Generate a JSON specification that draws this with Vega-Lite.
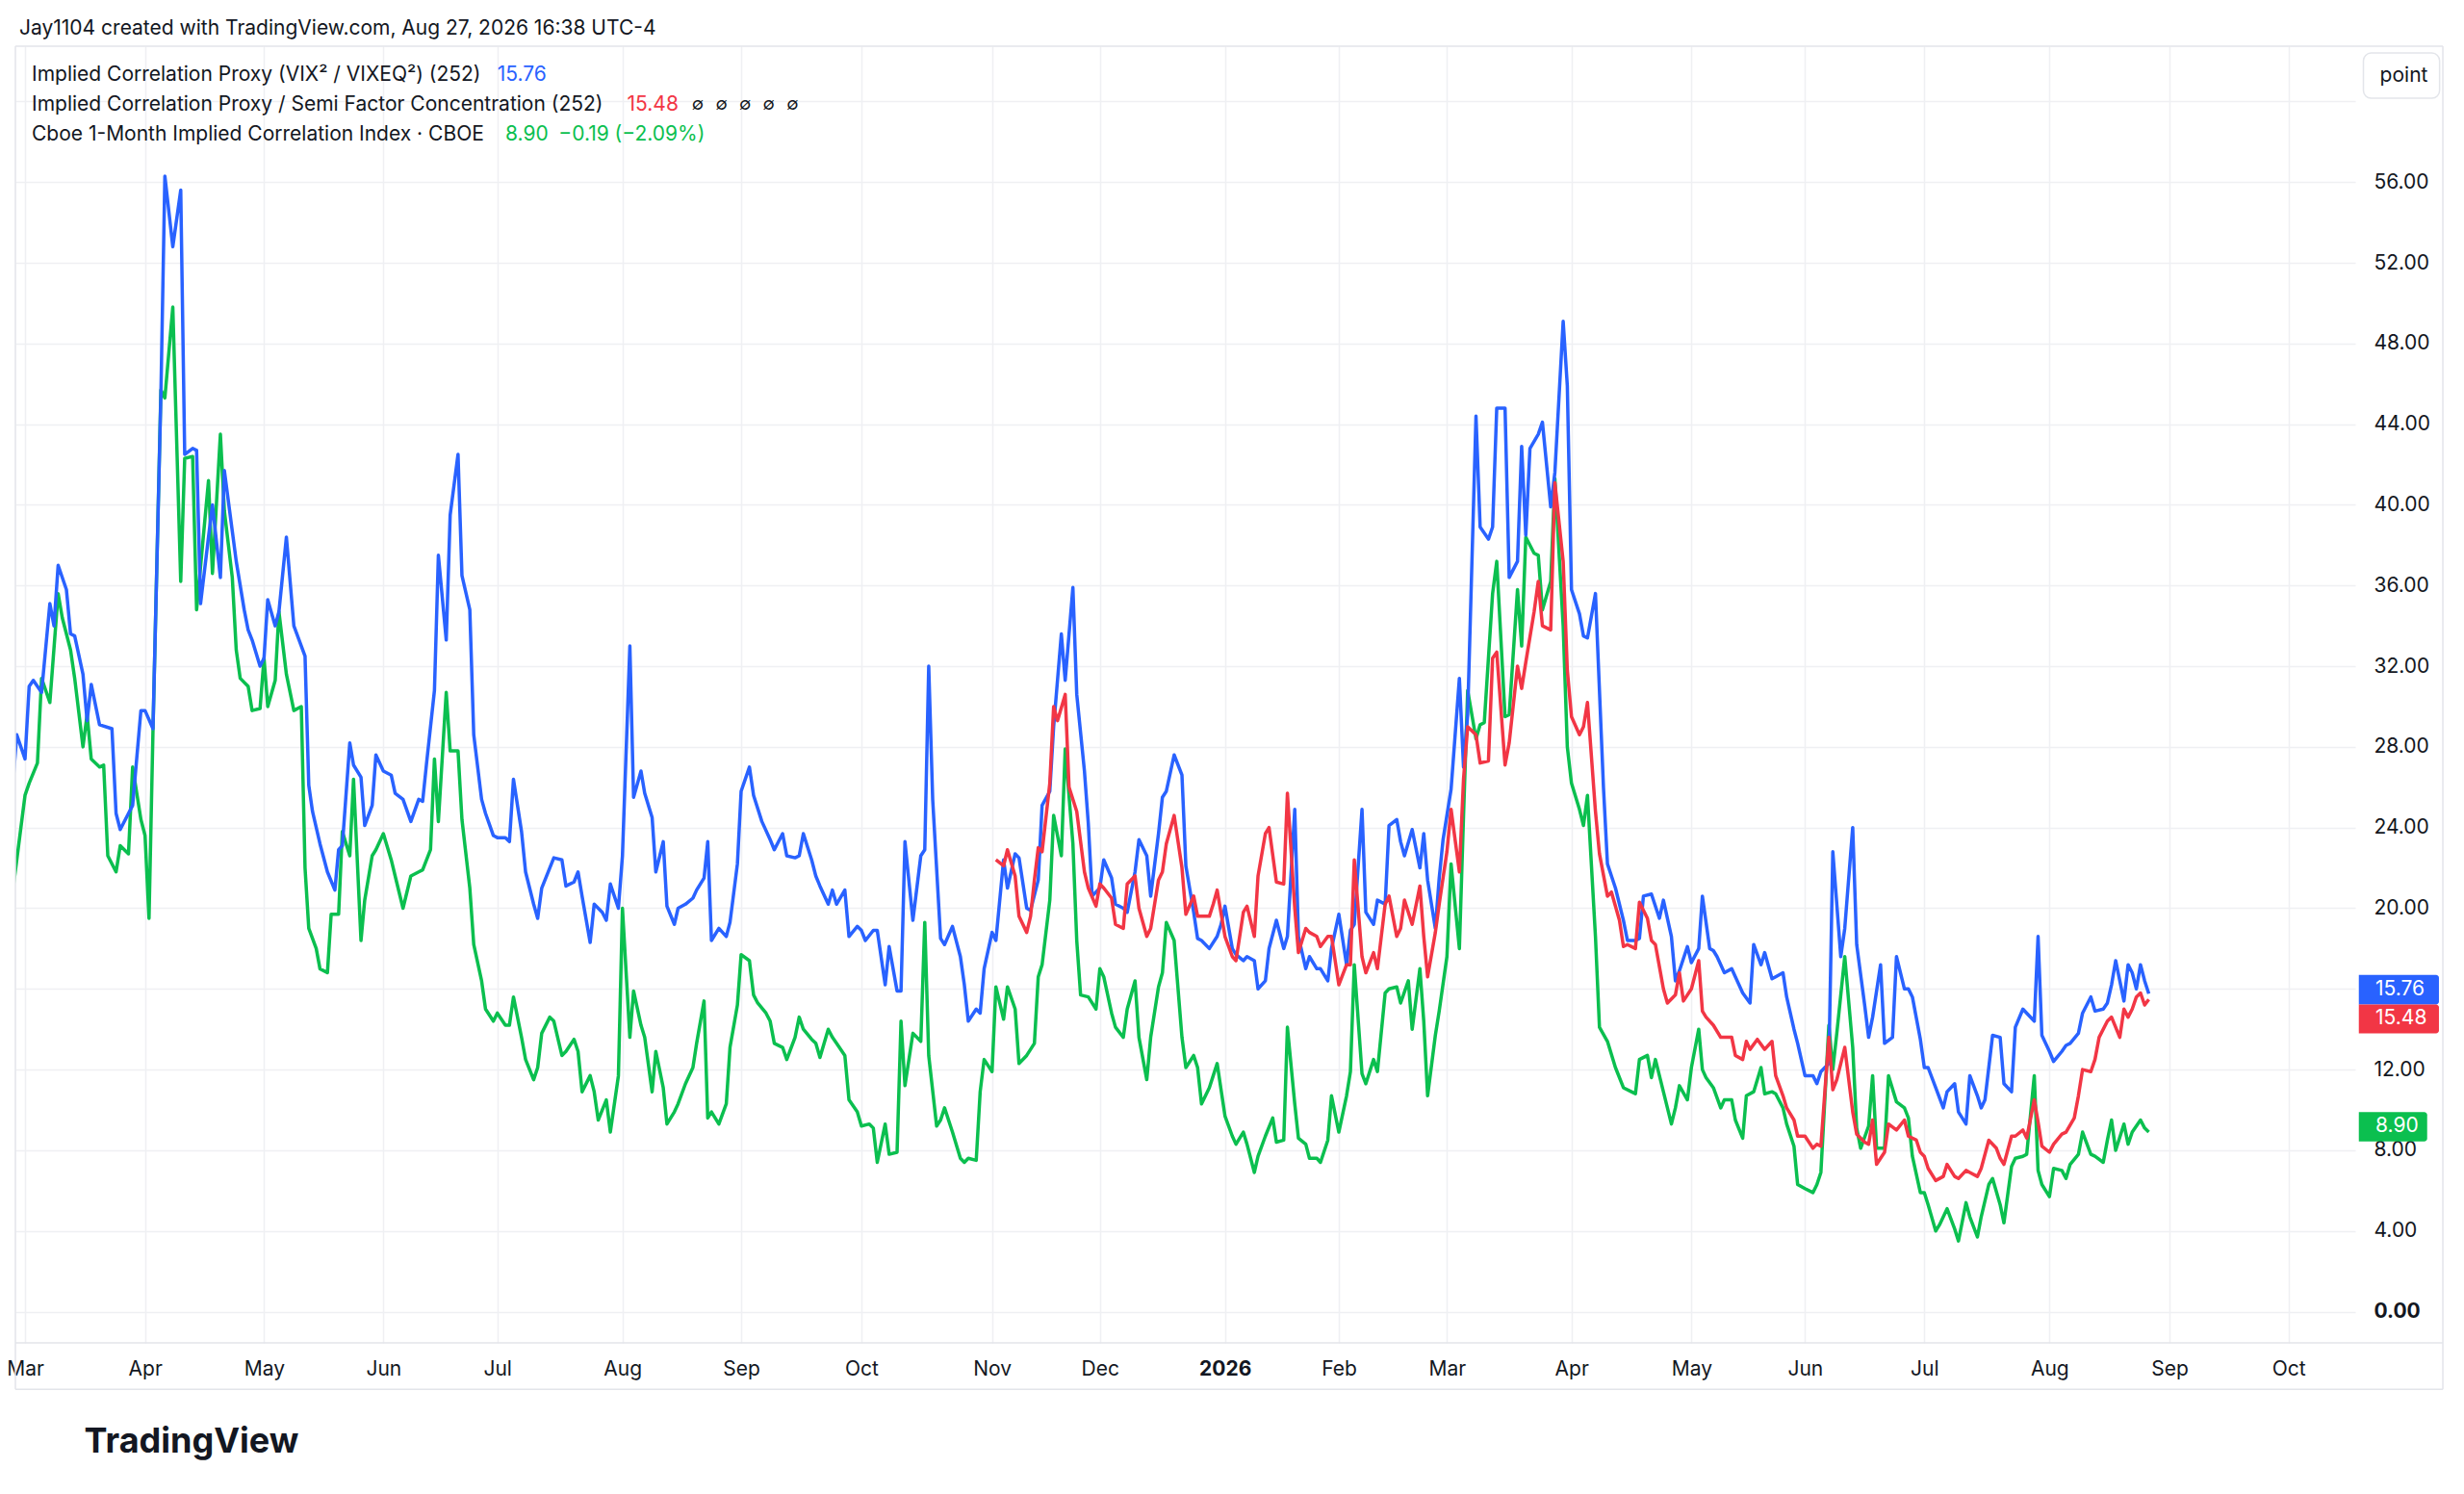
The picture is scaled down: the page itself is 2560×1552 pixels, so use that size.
{
"$schema": "https://vega.github.io/schema/vega-lite/v6.json",
"width": 2431,
"height": 1347,
"autosize": {"type": "none"},
"padding": {"left": 16, "top": 48, "right": 113, "bottom": 157},
"background": "#ffffff",
"title": {"text": "Jay1104 created with TradingView.com, Aug 27, 2026 16:38 UTC-4", "anchor": "start", "frame": "group", "dx": 4, "dy": 2, "offset": 9, "font": "Inter", "fontSize": 21, "fontWeight": "normal", "color": "#131722"},
"config": {"view": {"stroke": null}, "font": "Inter"},
"datasets": {
"legend": [
{"key": "proxy", "name": "Implied Correlation Proxy (VIX² / VIXEQ²) (252)", "last": "15.76", "extra": ""},
{"key": "semi", "name": "Implied Correlation Proxy / Semi Factor Concentration (252)", "last": "15.48", "extra": "∅\u2002\u2009∅\u2002\u2009∅\u2002\u2009∅\u2002\u2009∅"},
{"key": "cor", "name": "Cboe 1-Month Implied Correlation Index · CBOE", "last": "8.90", "extra": "8.90\u2002−0.19 (−2.09%)"}
],
"proxy": [
{"date":"2025-02-28","value":26.0},{"date":"2025-03-01","value":28.6},{"date":"2025-03-03","value":27.4},{"date":"2025-03-04","value":31.0},{"date":"2025-03-05","value":31.3},{"date":"2025-03-07","value":30.7},{"date":"2025-03-09","value":35.1},{"date":"2025-03-10","value":34.0},{"date":"2025-03-11","value":37.0},{"date":"2025-03-13","value":35.8},{"date":"2025-03-14","value":33.6},{"date":"2025-03-15","value":33.5},{"date":"2025-03-17","value":31.6},{"date":"2025-03-18","value":29.3},{"date":"2025-03-19","value":31.1},{"date":"2025-03-21","value":29.1},{"date":"2025-03-24","value":28.9},{"date":"2025-03-25","value":24.7},{"date":"2025-03-26","value":23.9},{"date":"2025-03-28","value":24.7},{"date":"2025-03-29","value":25.1},{"date":"2025-03-31","value":29.8},{"date":"2025-04-01","value":29.8},{"date":"2025-04-03","value":28.9},{"date":"2025-04-05","value":45.5},{"date":"2025-04-06","value":56.3},{"date":"2025-04-08","value":52.8},{"date":"2025-04-10","value":55.6},{"date":"2025-04-11","value":42.5},{"date":"2025-04-13","value":42.8},{"date":"2025-04-14","value":42.7},{"date":"2025-04-15","value":35.1},{"date":"2025-04-17","value":38.4},{"date":"2025-04-18","value":40.0},{"date":"2025-04-20","value":36.4},{"date":"2025-04-21","value":41.7},{"date":"2025-04-23","value":38.7},{"date":"2025-04-24","value":37.2},{"date":"2025-04-26","value":34.8},{"date":"2025-04-27","value":33.8},{"date":"2025-04-28","value":33.3},{"date":"2025-04-30","value":32.0},{"date":"2025-05-01","value":32.4},{"date":"2025-05-02","value":35.3},{"date":"2025-05-04","value":34.0},{"date":"2025-05-05","value":34.7},{"date":"2025-05-07","value":38.4},{"date":"2025-05-09","value":34.0},{"date":"2025-05-11","value":33.0},{"date":"2025-05-12","value":32.5},{"date":"2025-05-13","value":26.1},{"date":"2025-05-14","value":24.8},{"date":"2025-05-16","value":23.2},{"date":"2025-05-18","value":21.8},{"date":"2025-05-20","value":20.9},{"date":"2025-05-21","value":22.9},{"date":"2025-05-22","value":23.1},{"date":"2025-05-24","value":28.2},{"date":"2025-05-25","value":27.1},{"date":"2025-05-27","value":26.5},{"date":"2025-05-28","value":24.1},{"date":"2025-05-30","value":25.1},{"date":"2025-05-31","value":27.6},{"date":"2025-06-02","value":26.8},{"date":"2025-06-04","value":26.6},{"date":"2025-06-05","value":25.7},{"date":"2025-06-07","value":25.4},{"date":"2025-06-09","value":24.3},{"date":"2025-06-11","value":25.4},{"date":"2025-06-12","value":25.3},{"date":"2025-06-13","value":27.2},{"date":"2025-06-15","value":30.8},{"date":"2025-06-16","value":37.5},{"date":"2025-06-18","value":33.3},{"date":"2025-06-19","value":39.5},{"date":"2025-06-21","value":42.5},{"date":"2025-06-22","value":36.5},{"date":"2025-06-24","value":34.8},{"date":"2025-06-25","value":28.6},{"date":"2025-06-27","value":25.4},{"date":"2025-06-28","value":24.7},{"date":"2025-06-30","value":23.6},{"date":"2025-07-01","value":23.5},{"date":"2025-07-03","value":23.5},{"date":"2025-07-04","value":23.3},{"date":"2025-07-05","value":26.4},{"date":"2025-07-07","value":23.8},{"date":"2025-07-08","value":21.8},{"date":"2025-07-10","value":20.2},{"date":"2025-07-11","value":19.5},{"date":"2025-07-12","value":21.0},{"date":"2025-07-14","value":22.0},{"date":"2025-07-15","value":22.5},{"date":"2025-07-17","value":22.4},{"date":"2025-07-18","value":21.1},{"date":"2025-07-20","value":21.3},{"date":"2025-07-21","value":21.8},{"date":"2025-07-22","value":20.6},{"date":"2025-07-24","value":18.3},{"date":"2025-07-25","value":20.2},{"date":"2025-07-27","value":19.8},{"date":"2025-07-28","value":19.4},{"date":"2025-07-29","value":21.2},{"date":"2025-07-31","value":20.0},{"date":"2025-08-01","value":22.6},{"date":"2025-08-03","value":33.0},{"date":"2025-08-04","value":25.5},{"date":"2025-08-06","value":26.8},{"date":"2025-08-07","value":25.7},{"date":"2025-08-09","value":24.5},{"date":"2025-08-10","value":21.8},{"date":"2025-08-12","value":23.3},{"date":"2025-08-13","value":20.1},{"date":"2025-08-15","value":19.2},{"date":"2025-08-16","value":20.0},{"date":"2025-08-18","value":20.2},{"date":"2025-08-20","value":20.5},{"date":"2025-08-21","value":20.9},{"date":"2025-08-23","value":21.5},{"date":"2025-08-24","value":23.3},{"date":"2025-08-25","value":18.4},{"date":"2025-08-27","value":19.0},{"date":"2025-08-29","value":18.6},{"date":"2025-08-30","value":19.3},{"date":"2025-09-01","value":22.2},{"date":"2025-09-02","value":25.8},{"date":"2025-09-04","value":27.0},{"date":"2025-09-05","value":25.6},{"date":"2025-09-07","value":24.3},{"date":"2025-09-09","value":23.4},{"date":"2025-09-10","value":22.9},{"date":"2025-09-12","value":23.7},{"date":"2025-09-13","value":22.6},{"date":"2025-09-15","value":22.5},{"date":"2025-09-16","value":22.6},{"date":"2025-09-17","value":23.7},{"date":"2025-09-19","value":22.4},{"date":"2025-09-20","value":21.6},{"date":"2025-09-21","value":21.1},{"date":"2025-09-23","value":20.2},{"date":"2025-09-24","value":20.9},{"date":"2025-09-25","value":20.2},{"date":"2025-09-27","value":20.9},{"date":"2025-09-28","value":18.6},{"date":"2025-09-30","value":19.1},{"date":"2025-10-01","value":18.9},{"date":"2025-10-02","value":18.4},{"date":"2025-10-04","value":18.9},{"date":"2025-10-05","value":18.9},{"date":"2025-10-07","value":16.2},{"date":"2025-10-08","value":18.1},{"date":"2025-10-10","value":15.9},{"date":"2025-10-11","value":15.9},{"date":"2025-10-12","value":23.3},{"date":"2025-10-14","value":19.4},{"date":"2025-10-16","value":22.6},{"date":"2025-10-17","value":22.9},{"date":"2025-10-18","value":32.0},{"date":"2025-10-19","value":25.4},{"date":"2025-10-21","value":18.5},{"date":"2025-10-22","value":18.2},{"date":"2025-10-24","value":19.1},{"date":"2025-10-26","value":17.6},{"date":"2025-10-27","value":16.2},{"date":"2025-10-28","value":14.4},{"date":"2025-10-30","value":15.0},{"date":"2025-10-31","value":14.8},{"date":"2025-11-01","value":17.0},{"date":"2025-11-03","value":18.8},{"date":"2025-11-04","value":18.4},{"date":"2025-11-06","value":22.4},{"date":"2025-11-07","value":21.0},{"date":"2025-11-09","value":22.7},{"date":"2025-11-10","value":22.5},{"date":"2025-11-12","value":20.0},{"date":"2025-11-13","value":19.9},{"date":"2025-11-15","value":21.4},{"date":"2025-11-16","value":25.1},{"date":"2025-11-18","value":25.8},{"date":"2025-11-19","value":29.0},{"date":"2025-11-21","value":33.6},{"date":"2025-11-22","value":31.3},{"date":"2025-11-24","value":35.9},{"date":"2025-11-25","value":30.6},{"date":"2025-11-27","value":26.8},{"date":"2025-11-28","value":24.2},{"date":"2025-11-29","value":20.6},{"date":"2025-12-01","value":21.0},{"date":"2025-12-02","value":22.4},{"date":"2025-12-04","value":21.5},{"date":"2025-12-05","value":20.2},{"date":"2025-12-07","value":20.0},{"date":"2025-12-08","value":19.8},{"date":"2025-12-10","value":21.8},{"date":"2025-12-11","value":23.4},{"date":"2025-12-13","value":22.6},{"date":"2025-12-14","value":20.6},{"date":"2025-12-16","value":23.7},{"date":"2025-12-17","value":25.5},{"date":"2025-12-18","value":25.8},{"date":"2025-12-20","value":27.6},{"date":"2025-12-22","value":26.6},{"date":"2025-12-23","value":22.1},{"date":"2025-12-25","value":19.8},{"date":"2025-12-26","value":18.5},{"date":"2025-12-27","value":18.4},{"date":"2025-12-29","value":18.0},{"date":"2025-12-31","value":18.6},{"date":"2026-01-01","value":19.2},{"date":"2026-01-02","value":20.1},{"date":"2026-01-04","value":18.0},{"date":"2026-01-05","value":17.7},{"date":"2026-01-07","value":17.4},{"date":"2026-01-08","value":17.6},{"date":"2026-01-10","value":17.4},{"date":"2026-01-11","value":16.0},{"date":"2026-01-13","value":16.4},{"date":"2026-01-14","value":18.0},{"date":"2026-01-16","value":19.4},{"date":"2026-01-18","value":18.0},{"date":"2026-01-19","value":18.6},{"date":"2026-01-21","value":24.9},{"date":"2026-01-22","value":18.6},{"date":"2026-01-24","value":17.0},{"date":"2026-01-25","value":17.6},{"date":"2026-01-27","value":17.0},{"date":"2026-01-28","value":17.0},{"date":"2026-01-30","value":16.4},{"date":"2026-01-31","value":18.0},{"date":"2026-02-02","value":19.7},{"date":"2026-02-04","value":17.2},{"date":"2026-02-05","value":18.9},{"date":"2026-02-06","value":19.2},{"date":"2026-02-08","value":24.9},{"date":"2026-02-09","value":19.8},{"date":"2026-02-11","value":19.2},{"date":"2026-02-12","value":20.4},{"date":"2026-02-14","value":20.2},{"date":"2026-02-15","value":24.1},{"date":"2026-02-17","value":24.4},{"date":"2026-02-18","value":23.3},{"date":"2026-02-19","value":22.6},{"date":"2026-02-21","value":23.9},{"date":"2026-02-23","value":22.0},{"date":"2026-02-24","value":23.7},{"date":"2026-02-25","value":21.4},{"date":"2026-02-27","value":19.0},{"date":"2026-02-28","value":21.5},{"date":"2026-03-01","value":23.4},{"date":"2026-03-03","value":25.9},{"date":"2026-03-05","value":31.4},{"date":"2026-03-06","value":27.0},{"date":"2026-03-07","value":29.6},{"date":"2026-03-09","value":44.4},{"date":"2026-03-10","value":38.9},{"date":"2026-03-12","value":38.3},{"date":"2026-03-13","value":38.9},{"date":"2026-03-14","value":44.8},{"date":"2026-03-16","value":44.8},{"date":"2026-03-17","value":36.4},{"date":"2026-03-19","value":37.2},{"date":"2026-03-20","value":42.9},{"date":"2026-03-21","value":38.5},{"date":"2026-03-22","value":42.8},{"date":"2026-03-24","value":43.5},{"date":"2026-03-25","value":44.1},{"date":"2026-03-27","value":39.9},{"date":"2026-03-28","value":41.6},{"date":"2026-03-30","value":49.1},{"date":"2026-03-31","value":45.9},{"date":"2026-04-01","value":35.8},{"date":"2026-04-03","value":34.6},{"date":"2026-04-04","value":33.5},{"date":"2026-04-05","value":33.4},{"date":"2026-04-07","value":35.6},{"date":"2026-04-09","value":26.0},{"date":"2026-04-10","value":22.2},{"date":"2026-04-11","value":21.6},{"date":"2026-04-12","value":21.0},{"date":"2026-04-14","value":19.4},{"date":"2026-04-15","value":18.4},{"date":"2026-04-17","value":18.4},{"date":"2026-04-18","value":18.5},{"date":"2026-04-19","value":20.6},{"date":"2026-04-21","value":20.7},{"date":"2026-04-23","value":19.5},{"date":"2026-04-24","value":20.4},{"date":"2026-04-26","value":18.6},{"date":"2026-04-27","value":16.4},{"date":"2026-04-28","value":16.9},{"date":"2026-04-30","value":18.1},{"date":"2026-05-01","value":17.3},{"date":"2026-05-03","value":18.0},{"date":"2026-05-04","value":20.6},{"date":"2026-05-06","value":18.0},{"date":"2026-05-07","value":17.9},{"date":"2026-05-08","value":17.6},{"date":"2026-05-10","value":16.8},{"date":"2026-05-12","value":17.0},{"date":"2026-05-13","value":16.6},{"date":"2026-05-15","value":15.8},{"date":"2026-05-17","value":15.3},{"date":"2026-05-18","value":18.2},{"date":"2026-05-20","value":17.2},{"date":"2026-05-21","value":17.8},{"date":"2026-05-23","value":16.5},{"date":"2026-05-24","value":16.6},{"date":"2026-05-26","value":16.8},{"date":"2026-05-27","value":15.6},{"date":"2026-05-29","value":14.0},{"date":"2026-05-30","value":13.3},{"date":"2026-06-01","value":11.7},{"date":"2026-06-03","value":11.7},{"date":"2026-06-04","value":11.3},{"date":"2026-06-05","value":11.9},{"date":"2026-06-07","value":12.3},{"date":"2026-06-08","value":22.8},{"date":"2026-06-10","value":17.6},{"date":"2026-06-11","value":19.0},{"date":"2026-06-13","value":24.0},{"date":"2026-06-14","value":18.2},{"date":"2026-06-16","value":15.2},{"date":"2026-06-17","value":13.6},{"date":"2026-06-18","value":14.6},{"date":"2026-06-20","value":17.2},{"date":"2026-06-21","value":13.3},{"date":"2026-06-23","value":13.6},{"date":"2026-06-24","value":17.6},{"date":"2026-06-26","value":16.0},{"date":"2026-06-27","value":16.0},{"date":"2026-06-28","value":15.6},{"date":"2026-06-30","value":13.5},{"date":"2026-07-01","value":12.1},{"date":"2026-07-02","value":12.1},{"date":"2026-07-04","value":11.1},{"date":"2026-07-06","value":10.1},{"date":"2026-07-07","value":10.9},{"date":"2026-07-09","value":11.3},{"date":"2026-07-10","value":9.9},{"date":"2026-07-12","value":9.3},{"date":"2026-07-13","value":11.7},{"date":"2026-07-15","value":10.7},{"date":"2026-07-16","value":10.1},{"date":"2026-07-17","value":10.5},{"date":"2026-07-19","value":13.7},{"date":"2026-07-21","value":13.6},{"date":"2026-07-22","value":11.3},{"date":"2026-07-24","value":10.9},{"date":"2026-07-25","value":14.1},{"date":"2026-07-27","value":15.0},{"date":"2026-07-28","value":14.8},{"date":"2026-07-30","value":14.4},{"date":"2026-07-31","value":18.6},{"date":"2026-08-01","value":13.7},{"date":"2026-08-03","value":12.9},{"date":"2026-08-04","value":12.4},{"date":"2026-08-06","value":12.9},{"date":"2026-08-07","value":13.2},{"date":"2026-08-08","value":13.3},{"date":"2026-08-10","value":13.8},{"date":"2026-08-11","value":14.8},{"date":"2026-08-13","value":15.6},{"date":"2026-08-14","value":14.9},{"date":"2026-08-16","value":15.0},{"date":"2026-08-17","value":15.3},{"date":"2026-08-18","value":16.2},{"date":"2026-08-19","value":17.4},{"date":"2026-08-21","value":15.4},{"date":"2026-08-22","value":17.2},{"date":"2026-08-23","value":16.8},{"date":"2026-08-24","value":16.0},{"date":"2026-08-25","value":17.2},{"date":"2026-08-26","value":16.4},{"date":"2026-08-27","value":15.76}
],
"semi": [
{"date":"2025-11-04","value":22.4},{"date":"2025-11-06","value":22.1},{"date":"2025-11-07","value":22.9},{"date":"2025-11-09","value":21.6},{"date":"2025-11-10","value":19.6},{"date":"2025-11-12","value":18.8},{"date":"2025-11-13","value":19.6},{"date":"2025-11-14","value":21.4},{"date":"2025-11-15","value":23.0},{"date":"2025-11-16","value":22.8},{"date":"2025-11-18","value":26.2},{"date":"2025-11-19","value":30.0},{"date":"2025-11-20","value":29.3},{"date":"2025-11-22","value":30.6},{"date":"2025-11-23","value":26.0},{"date":"2025-11-25","value":24.8},{"date":"2025-11-27","value":21.8},{"date":"2025-11-28","value":21.0},{"date":"2025-11-30","value":20.1},{"date":"2025-12-01","value":21.2},{"date":"2025-12-02","value":21.0},{"date":"2025-12-04","value":20.5},{"date":"2025-12-05","value":19.2},{"date":"2025-12-07","value":19.0},{"date":"2025-12-08","value":21.2},{"date":"2025-12-10","value":21.6},{"date":"2025-12-11","value":20.0},{"date":"2025-12-13","value":18.6},{"date":"2025-12-14","value":19.0},{"date":"2025-12-16","value":21.4},{"date":"2025-12-17","value":21.8},{"date":"2025-12-18","value":23.2},{"date":"2025-12-20","value":24.6},{"date":"2025-12-22","value":22.0},{"date":"2025-12-23","value":19.7},{"date":"2025-12-25","value":20.6},{"date":"2025-12-26","value":19.6},{"date":"2025-12-29","value":19.6},{"date":"2025-12-30","value":20.2},{"date":"2025-12-31","value":20.9},{"date":"2026-01-02","value":18.6},{"date":"2026-01-04","value":17.6},{"date":"2026-01-05","value":17.4},{"date":"2026-01-07","value":19.8},{"date":"2026-01-08","value":20.1},{"date":"2026-01-10","value":18.6},{"date":"2026-01-11","value":21.6},{"date":"2026-01-13","value":23.7},{"date":"2026-01-14","value":24.0},{"date":"2026-01-16","value":21.3},{"date":"2026-01-18","value":21.2},{"date":"2026-01-19","value":25.7},{"date":"2026-01-21","value":20.0},{"date":"2026-01-22","value":17.8},{"date":"2026-01-24","value":19.0},{"date":"2026-01-25","value":18.8},{"date":"2026-01-27","value":18.6},{"date":"2026-01-28","value":18.1},{"date":"2026-01-30","value":18.6},{"date":"2026-01-31","value":18.6},{"date":"2026-02-02","value":16.2},{"date":"2026-02-04","value":17.2},{"date":"2026-02-05","value":17.2},{"date":"2026-02-06","value":22.4},{"date":"2026-02-08","value":17.6},{"date":"2026-02-09","value":16.8},{"date":"2026-02-11","value":17.8},{"date":"2026-02-12","value":17.0},{"date":"2026-02-14","value":20.2},{"date":"2026-02-15","value":20.6},{"date":"2026-02-17","value":18.6},{"date":"2026-02-18","value":19.0},{"date":"2026-02-19","value":20.4},{"date":"2026-02-21","value":19.2},{"date":"2026-02-23","value":21.1},{"date":"2026-02-24","value":18.6},{"date":"2026-02-25","value":16.6},{"date":"2026-02-27","value":18.8},{"date":"2026-02-28","value":20.2},{"date":"2026-03-02","value":22.8},{"date":"2026-03-03","value":24.9},{"date":"2026-03-05","value":21.8},{"date":"2026-03-06","value":26.4},{"date":"2026-03-07","value":29.0},{"date":"2026-03-09","value":28.6},{"date":"2026-03-10","value":27.2},{"date":"2026-03-12","value":27.3},{"date":"2026-03-13","value":32.4},{"date":"2026-03-14","value":32.7},{"date":"2026-03-16","value":27.1},{"date":"2026-03-17","value":28.2},{"date":"2026-03-19","value":32.0},{"date":"2026-03-20","value":30.9},{"date":"2026-03-21","value":32.2},{"date":"2026-03-23","value":34.7},{"date":"2026-03-24","value":36.2},{"date":"2026-03-25","value":34.0},{"date":"2026-03-27","value":33.8},{"date":"2026-03-28","value":41.1},{"date":"2026-03-30","value":37.2},{"date":"2026-03-31","value":31.8},{"date":"2026-04-01","value":29.5},{"date":"2026-04-03","value":28.6},{"date":"2026-04-04","value":29.0},{"date":"2026-04-05","value":30.2},{"date":"2026-04-07","value":24.8},{"date":"2026-04-08","value":22.7},{"date":"2026-04-10","value":20.6},{"date":"2026-04-11","value":20.8},{"date":"2026-04-13","value":19.4},{"date":"2026-04-14","value":18.1},{"date":"2026-04-15","value":18.2},{"date":"2026-04-17","value":18.0},{"date":"2026-04-18","value":20.3},{"date":"2026-04-20","value":19.5},{"date":"2026-04-21","value":18.4},{"date":"2026-04-22","value":18.2},{"date":"2026-04-24","value":16.0},{"date":"2026-04-25","value":15.3},{"date":"2026-04-27","value":15.7},{"date":"2026-04-28","value":16.8},{"date":"2026-04-29","value":15.4},{"date":"2026-05-01","value":16.0},{"date":"2026-05-03","value":17.4},{"date":"2026-05-04","value":14.9},{"date":"2026-05-05","value":14.6},{"date":"2026-05-07","value":14.2},{"date":"2026-05-09","value":13.6},{"date":"2026-05-10","value":13.6},{"date":"2026-05-12","value":13.6},{"date":"2026-05-13","value":12.7},{"date":"2026-05-15","value":12.5},{"date":"2026-05-16","value":13.4},{"date":"2026-05-17","value":13.0},{"date":"2026-05-19","value":13.5},{"date":"2026-05-21","value":13.0},{"date":"2026-05-23","value":13.4},{"date":"2026-05-24","value":11.7},{"date":"2026-05-26","value":10.7},{"date":"2026-05-27","value":10.1},{"date":"2026-05-29","value":9.5},{"date":"2026-05-30","value":8.7},{"date":"2026-06-01","value":8.7},{"date":"2026-06-03","value":8.1},{"date":"2026-06-04","value":8.3},{"date":"2026-06-05","value":8.2},{"date":"2026-06-07","value":13.6},{"date":"2026-06-08","value":11.0},{"date":"2026-06-09","value":11.5},{"date":"2026-06-11","value":13.1},{"date":"2026-06-13","value":9.9},{"date":"2026-06-14","value":8.8},{"date":"2026-06-16","value":8.4},{"date":"2026-06-17","value":8.3},{"date":"2026-06-18","value":9.5},{"date":"2026-06-19","value":7.3},{"date":"2026-06-21","value":7.9},{"date":"2026-06-22","value":9.3},{"date":"2026-06-24","value":9.0},{"date":"2026-06-26","value":9.5},{"date":"2026-06-27","value":8.7},{"date":"2026-06-29","value":8.5},{"date":"2026-06-30","value":7.9},{"date":"2026-07-01","value":7.7},{"date":"2026-07-02","value":7.1},{"date":"2026-07-04","value":6.5},{"date":"2026-07-06","value":6.7},{"date":"2026-07-07","value":7.3},{"date":"2026-07-09","value":6.7},{"date":"2026-07-10","value":6.6},{"date":"2026-07-12","value":7.0},{"date":"2026-07-13","value":6.9},{"date":"2026-07-15","value":6.7},{"date":"2026-07-16","value":7.1},{"date":"2026-07-18","value":8.5},{"date":"2026-07-20","value":8.1},{"date":"2026-07-21","value":7.6},{"date":"2026-07-22","value":7.3},{"date":"2026-07-24","value":8.7},{"date":"2026-07-25","value":8.7},{"date":"2026-07-27","value":9.0},{"date":"2026-07-28","value":8.6},{"date":"2026-07-30","value":10.5},{"date":"2026-07-31","value":9.4},{"date":"2026-08-01","value":8.2},{"date":"2026-08-03","value":7.9},{"date":"2026-08-04","value":8.3},{"date":"2026-08-06","value":8.8},{"date":"2026-08-07","value":8.9},{"date":"2026-08-09","value":9.6},{"date":"2026-08-10","value":10.7},{"date":"2026-08-11","value":12.0},{"date":"2026-08-13","value":11.9},{"date":"2026-08-14","value":12.5},{"date":"2026-08-15","value":13.6},{"date":"2026-08-17","value":14.4},{"date":"2026-08-18","value":14.6},{"date":"2026-08-20","value":13.6},{"date":"2026-08-21","value":15.0},{"date":"2026-08-22","value":14.6},{"date":"2026-08-23","value":15.0},{"date":"2026-08-24","value":15.6},{"date":"2026-08-25","value":15.8},{"date":"2026-08-26","value":15.2},{"date":"2026-08-27","value":15.48}
],
"cor": [
{"date":"2025-02-28","value":20.8},{"date":"2025-03-03","value":25.6},{"date":"2025-03-04","value":26.2},{"date":"2025-03-06","value":27.2},{"date":"2025-03-07","value":31.4},{"date":"2025-03-09","value":30.2},{"date":"2025-03-11","value":35.6},{"date":"2025-03-12","value":34.4},{"date":"2025-03-14","value":32.8},{"date":"2025-03-15","value":31.4},{"date":"2025-03-17","value":28.0},{"date":"2025-03-18","value":29.6},{"date":"2025-03-19","value":27.4},{"date":"2025-03-21","value":27.0},{"date":"2025-03-22","value":27.1},{"date":"2025-03-23","value":22.6},{"date":"2025-03-25","value":21.8},{"date":"2025-03-26","value":23.1},{"date":"2025-03-28","value":22.7},{"date":"2025-03-29","value":27.0},{"date":"2025-03-31","value":24.4},{"date":"2025-04-01","value":23.6},{"date":"2025-04-02","value":19.5},{"date":"2025-04-03","value":28.8},{"date":"2025-04-05","value":45.7},{"date":"2025-04-06","value":45.3},{"date":"2025-04-08","value":49.8},{"date":"2025-04-10","value":36.2},{"date":"2025-04-11","value":42.3},{"date":"2025-04-13","value":42.4},{"date":"2025-04-14","value":34.8},{"date":"2025-04-17","value":41.2},{"date":"2025-04-18","value":36.6},{"date":"2025-04-20","value":43.5},{"date":"2025-04-21","value":39.7},{"date":"2025-04-23","value":36.4},{"date":"2025-04-24","value":32.8},{"date":"2025-04-25","value":31.4},{"date":"2025-04-27","value":31.0},{"date":"2025-04-28","value":29.8},{"date":"2025-04-30","value":29.9},{"date":"2025-05-01","value":32.4},{"date":"2025-05-02","value":30.0},{"date":"2025-05-04","value":31.3},{"date":"2025-05-05","value":34.7},{"date":"2025-05-07","value":31.6},{"date":"2025-05-09","value":29.8},{"date":"2025-05-11","value":30.0},{"date":"2025-05-12","value":22.0},{"date":"2025-05-13","value":19.0},{"date":"2025-05-15","value":18.0},{"date":"2025-05-16","value":17.0},{"date":"2025-05-18","value":16.8},{"date":"2025-05-19","value":19.7},{"date":"2025-05-21","value":19.7},{"date":"2025-05-22","value":23.8},{"date":"2025-05-24","value":22.6},{"date":"2025-05-25","value":26.4},{"date":"2025-05-27","value":18.4},{"date":"2025-05-28","value":20.4},{"date":"2025-05-30","value":22.6},{"date":"2025-05-31","value":22.9},{"date":"2025-06-02","value":23.7},{"date":"2025-06-04","value":22.4},{"date":"2025-06-05","value":21.6},{"date":"2025-06-07","value":20.0},{"date":"2025-06-09","value":21.6},{"date":"2025-06-11","value":21.8},{"date":"2025-06-12","value":21.9},{"date":"2025-06-14","value":22.9},{"date":"2025-06-15","value":27.4},{"date":"2025-06-16","value":24.3},{"date":"2025-06-18","value":30.7},{"date":"2025-06-19","value":27.8},{"date":"2025-06-21","value":27.8},{"date":"2025-06-22","value":24.4},{"date":"2025-06-24","value":21.0},{"date":"2025-06-25","value":18.2},{"date":"2025-06-27","value":16.4},{"date":"2025-06-28","value":15.0},{"date":"2025-06-30","value":14.4},{"date":"2025-07-01","value":14.8},{"date":"2025-07-03","value":14.2},{"date":"2025-07-04","value":14.2},{"date":"2025-07-05","value":15.6},{"date":"2025-07-07","value":13.6},{"date":"2025-07-08","value":12.5},{"date":"2025-07-10","value":11.5},{"date":"2025-07-11","value":12.1},{"date":"2025-07-12","value":13.8},{"date":"2025-07-14","value":14.6},{"date":"2025-07-15","value":14.4},{"date":"2025-07-17","value":12.7},{"date":"2025-07-18","value":12.9},{"date":"2025-07-20","value":13.5},{"date":"2025-07-21","value":12.9},{"date":"2025-07-22","value":10.9},{"date":"2025-07-24","value":11.7},{"date":"2025-07-25","value":10.9},{"date":"2025-07-26","value":9.5},{"date":"2025-07-28","value":10.5},{"date":"2025-07-29","value":8.9},{"date":"2025-07-31","value":11.7},{"date":"2025-08-01","value":20.0},{"date":"2025-08-03","value":13.6},{"date":"2025-08-04","value":15.9},{"date":"2025-08-06","value":14.2},{"date":"2025-08-07","value":13.6},{"date":"2025-08-09","value":10.9},{"date":"2025-08-10","value":12.9},{"date":"2025-08-12","value":11.1},{"date":"2025-08-13","value":9.3},{"date":"2025-08-15","value":9.9},{"date":"2025-08-16","value":10.3},{"date":"2025-08-18","value":11.3},{"date":"2025-08-20","value":12.1},{"date":"2025-08-21","value":13.3},{"date":"2025-08-23","value":15.4},{"date":"2025-08-24","value":9.6},{"date":"2025-08-25","value":9.9},{"date":"2025-08-27","value":9.3},{"date":"2025-08-29","value":10.3},{"date":"2025-08-30","value":13.1},{"date":"2025-09-01","value":15.2},{"date":"2025-09-02","value":17.7},{"date":"2025-09-04","value":17.4},{"date":"2025-09-05","value":15.7},{"date":"2025-09-06","value":15.3},{"date":"2025-09-08","value":14.8},{"date":"2025-09-09","value":14.4},{"date":"2025-09-10","value":13.3},{"date":"2025-09-12","value":13.1},{"date":"2025-09-13","value":12.5},{"date":"2025-09-15","value":13.6},{"date":"2025-09-16","value":14.6},{"date":"2025-09-17","value":14.0},{"date":"2025-09-19","value":13.5},{"date":"2025-09-20","value":13.3},{"date":"2025-09-21","value":12.6},{"date":"2025-09-23","value":14.0},{"date":"2025-09-24","value":13.6},{"date":"2025-09-25","value":13.3},{"date":"2025-09-27","value":12.7},{"date":"2025-09-28","value":10.5},{"date":"2025-09-30","value":9.9},{"date":"2025-10-01","value":9.2},{"date":"2025-10-03","value":9.3},{"date":"2025-10-04","value":9.1},{"date":"2025-10-05","value":7.4},{"date":"2025-10-07","value":9.3},{"date":"2025-10-08","value":7.8},{"date":"2025-10-10","value":7.9},{"date":"2025-10-11","value":14.4},{"date":"2025-10-12","value":11.2},{"date":"2025-10-14","value":13.8},{"date":"2025-10-16","value":13.4},{"date":"2025-10-17","value":19.3},{"date":"2025-10-18","value":12.7},{"date":"2025-10-20","value":9.2},{"date":"2025-10-21","value":9.5},{"date":"2025-10-22","value":10.1},{"date":"2025-10-24","value":8.9},{"date":"2025-10-26","value":7.6},{"date":"2025-10-27","value":7.4},{"date":"2025-10-28","value":7.6},{"date":"2025-10-30","value":7.5},{"date":"2025-10-31","value":10.9},{"date":"2025-11-01","value":12.5},{"date":"2025-11-03","value":11.9},{"date":"2025-11-04","value":16.1},{"date":"2025-11-06","value":14.5},{"date":"2025-11-07","value":16.1},{"date":"2025-11-09","value":15.0},{"date":"2025-11-10","value":12.3},{"date":"2025-11-12","value":12.7},{"date":"2025-11-14","value":13.3},{"date":"2025-11-15","value":16.6},{"date":"2025-11-16","value":17.2},{"date":"2025-11-18","value":20.4},{"date":"2025-11-19","value":24.6},{"date":"2025-11-21","value":22.6},{"date":"2025-11-22","value":27.9},{"date":"2025-11-24","value":23.2},{"date":"2025-11-25","value":18.4},{"date":"2025-11-26","value":15.7},{"date":"2025-11-28","value":15.6},{"date":"2025-11-30","value":15.0},{"date":"2025-12-01","value":17.0},{"date":"2025-12-02","value":16.6},{"date":"2025-12-04","value":14.8},{"date":"2025-12-05","value":14.1},{"date":"2025-12-07","value":13.6},{"date":"2025-12-08","value":15.0},{"date":"2025-12-10","value":16.4},{"date":"2025-12-11","value":13.6},{"date":"2025-12-13","value":11.5},{"date":"2025-12-14","value":13.6},{"date":"2025-12-16","value":16.1},{"date":"2025-12-17","value":16.8},{"date":"2025-12-18","value":19.3},{"date":"2025-12-20","value":18.4},{"date":"2025-12-22","value":13.6},{"date":"2025-12-23","value":12.1},{"date":"2025-12-25","value":12.7},{"date":"2025-12-26","value":12.1},{"date":"2025-12-27","value":10.3},{"date":"2025-12-29","value":11.1},{"date":"2025-12-30","value":11.7},{"date":"2025-12-31","value":12.3},{"date":"2026-01-02","value":9.7},{"date":"2026-01-04","value":8.7},{"date":"2026-01-05","value":8.3},{"date":"2026-01-07","value":8.9},{"date":"2026-01-08","value":8.3},{"date":"2026-01-10","value":6.9},{"date":"2026-01-11","value":7.7},{"date":"2026-01-13","value":8.7},{"date":"2026-01-15","value":9.6},{"date":"2026-01-16","value":8.4},{"date":"2026-01-18","value":8.5},{"date":"2026-01-19","value":14.1},{"date":"2026-01-21","value":10.3},{"date":"2026-01-22","value":8.6},{"date":"2026-01-24","value":8.3},{"date":"2026-01-25","value":7.6},{"date":"2026-01-27","value":7.6},{"date":"2026-01-28","value":7.4},{"date":"2026-01-30","value":8.5},{"date":"2026-01-31","value":10.7},{"date":"2026-02-02","value":8.9},{"date":"2026-02-04","value":10.7},{"date":"2026-02-05","value":11.9},{"date":"2026-02-06","value":17.2},{"date":"2026-02-08","value":11.8},{"date":"2026-02-09","value":11.3},{"date":"2026-02-11","value":12.5},{"date":"2026-02-12","value":11.9},{"date":"2026-02-14","value":15.8},{"date":"2026-02-15","value":16.0},{"date":"2026-02-17","value":16.1},{"date":"2026-02-18","value":15.3},{"date":"2026-02-20","value":16.4},{"date":"2026-02-21","value":14.0},{"date":"2026-02-23","value":17.0},{"date":"2026-02-24","value":14.4},{"date":"2026-02-25","value":10.7},{"date":"2026-02-27","value":13.7},{"date":"2026-02-28","value":14.9},{"date":"2026-03-02","value":17.6},{"date":"2026-03-03","value":22.2},{"date":"2026-03-05","value":18.0},{"date":"2026-03-06","value":24.6},{"date":"2026-03-07","value":30.8},{"date":"2026-03-09","value":28.4},{"date":"2026-03-10","value":29.1},{"date":"2026-03-11","value":29.2},{"date":"2026-03-13","value":35.6},{"date":"2026-03-14","value":37.2},{"date":"2026-03-16","value":29.5},{"date":"2026-03-17","value":29.6},{"date":"2026-03-19","value":35.8},{"date":"2026-03-20","value":33.0},{"date":"2026-03-21","value":38.4},{"date":"2026-03-23","value":37.6},{"date":"2026-03-24","value":37.5},{"date":"2026-03-25","value":34.8},{"date":"2026-03-27","value":36.2},{"date":"2026-03-28","value":41.3},{"date":"2026-03-30","value":34.0},{"date":"2026-03-31","value":28.0},{"date":"2026-04-01","value":26.2},{"date":"2026-04-03","value":24.9},{"date":"2026-04-04","value":24.1},{"date":"2026-04-05","value":25.6},{"date":"2026-04-07","value":18.6},{"date":"2026-04-08","value":14.1},{"date":"2026-04-10","value":13.4},{"date":"2026-04-12","value":12.1},{"date":"2026-04-14","value":11.1},{"date":"2026-04-16","value":10.9},{"date":"2026-04-17","value":10.8},{"date":"2026-04-18","value":12.5},{"date":"2026-04-20","value":12.7},{"date":"2026-04-21","value":11.6},{"date":"2026-04-22","value":12.5},{"date":"2026-04-24","value":10.9},{"date":"2026-04-26","value":9.3},{"date":"2026-04-27","value":10.1},{"date":"2026-04-28","value":11.2},{"date":"2026-04-30","value":10.5},{"date":"2026-05-01","value":12.1},{"date":"2026-05-03","value":14.0},{"date":"2026-05-04","value":12.0},{"date":"2026-05-05","value":11.6},{"date":"2026-05-07","value":11.1},{"date":"2026-05-09","value":10.1},{"date":"2026-05-10","value":10.5},{"date":"2026-05-12","value":10.5},{"date":"2026-05-13","value":9.5},{"date":"2026-05-15","value":8.6},{"date":"2026-05-16","value":10.7},{"date":"2026-05-18","value":10.9},{"date":"2026-05-20","value":12.1},{"date":"2026-05-21","value":10.8},{"date":"2026-05-23","value":10.9},{"date":"2026-05-24","value":10.8},{"date":"2026-05-26","value":10.1},{"date":"2026-05-27","value":9.3},{"date":"2026-05-29","value":8.2},{"date":"2026-05-30","value":6.3},{"date":"2026-06-01","value":6.1},{"date":"2026-06-03","value":5.9},{"date":"2026-06-04","value":6.3},{"date":"2026-06-05","value":6.9},{"date":"2026-06-07","value":14.2},{"date":"2026-06-08","value":12.0},{"date":"2026-06-09","value":13.8},{"date":"2026-06-11","value":17.6},{"date":"2026-06-13","value":13.1},{"date":"2026-06-14","value":9.1},{"date":"2026-06-15","value":8.1},{"date":"2026-06-17","value":9.2},{"date":"2026-06-18","value":11.7},{"date":"2026-06-19","value":8.1},{"date":"2026-06-21","value":8.1},{"date":"2026-06-22","value":11.7},{"date":"2026-06-24","value":10.4},{"date":"2026-06-26","value":10.1},{"date":"2026-06-27","value":9.6},{"date":"2026-06-28","value":7.7},{"date":"2026-06-30","value":5.9},{"date":"2026-07-01","value":5.9},{"date":"2026-07-02","value":5.3},{"date":"2026-07-04","value":4.0},{"date":"2026-07-05","value":4.3},{"date":"2026-07-07","value":5.1},{"date":"2026-07-09","value":4.1},{"date":"2026-07-10","value":3.5},{"date":"2026-07-12","value":5.4},{"date":"2026-07-13","value":4.7},{"date":"2026-07-15","value":3.7},{"date":"2026-07-16","value":4.7},{"date":"2026-07-18","value":6.3},{"date":"2026-07-19","value":6.6},{"date":"2026-07-21","value":5.3},{"date":"2026-07-22","value":4.4},{"date":"2026-07-24","value":7.2},{"date":"2026-07-25","value":7.6},{"date":"2026-07-27","value":7.7},{"date":"2026-07-28","value":7.8},{"date":"2026-07-30","value":11.7},{"date":"2026-07-31","value":7.0},{"date":"2026-08-01","value":6.3},{"date":"2026-08-03","value":5.7},{"date":"2026-08-04","value":7.1},{"date":"2026-08-06","value":7.0},{"date":"2026-08-07","value":6.6},{"date":"2026-08-08","value":7.3},{"date":"2026-08-10","value":7.8},{"date":"2026-08-11","value":8.9},{"date":"2026-08-13","value":7.8},{"date":"2026-08-14","value":7.7},{"date":"2026-08-16","value":7.4},{"date":"2026-08-17","value":8.5},{"date":"2026-08-18","value":9.5},{"date":"2026-08-19","value":8.0},{"date":"2026-08-21","value":9.3},{"date":"2026-08-22","value":8.3},{"date":"2026-08-23","value":8.9},{"date":"2026-08-25","value":9.5},{"date":"2026-08-26","value":9.1},{"date":"2026-08-27","value":8.9}
]
},
"layer": [
{
"data": {"name": "cor", "format": {"parse": {"date": "utc:'%Y-%m-%d'"}}},
"mark": {"type": "line", "color": "#0BBF4F", "strokeWidth": 3.5, "strokeJoin": "round", "clip": true},
"encoding": {
"x": {"field": "date", "type": "quantitative",
 "scale": {"type": "linear", "nice": false, "zero": false,
  "domain": [1740758400000, 1740960000000, 1743465600000, 1746057600000, 1748822400000, 1751328000000, 1754006400000, 1756771200000, 1759276800000, 1762128000000, 1764547200000, 1767312000000, 1769990400000, 1772409600000, 1775001600000, 1777593600000, 1780272000000, 1782864000000, 1785715200000, 1788220800000, 1790812800000, 1792281600000],
  "range": [0, 10, 134.7, 258.3, 382.3, 500.7, 630.7, 754, 879, 1014.7, 1126.7, 1256.7, 1375, 1487.3, 1616.7, 1741.3, 1859.3, 1983.3, 2113.3, 2238, 2361.7, 2431]},
 "axis": {"values": [1740960000000, 1743465600000, 1746057600000, 1748822400000, 1751328000000, 1754006400000, 1756771200000, 1759276800000, 1762128000000, 1764547200000, 1767312000000, 1769990400000, 1772409600000, 1775001600000, 1777593600000, 1780272000000, 1782864000000, 1785715200000, 1788220800000, 1790812800000],
  "labelExpr": "utcFormat(datum.value, '%m') == '01' ? utcFormat(datum.value, '%Y') : utcFormat(datum.value, '%b')",
  "labelFontWeight": {"condition": {"test": "utcFormat(datum.value, '%m') == '01'", "value": "bold"}, "value": "normal"},
  "labelFont": "Inter", "labelFontSize": 21, "labelColor": "#131722", "labelFlush": false, "labelOverlap": false, "labelBaseline": "middle", "labelPadding": 27,
  "ticks": false, "tickSize": 0, "domain": false, "grid": true, "gridColor": "#EFF0F3", "gridWidth": 1.5,
  "title": "TradingView", "titleX": 71, "titleY": 102, "titleAlign": "left", "titleBaseline": "middle", "titleAngle": 0, "titleFont": "Inter", "titleFontSize": 36, "titleFontWeight": "bold", "titleColor": "#131722"}},
"y": {"field": "value", "type": "quantitative",
 "scale": {"domain": [-1.55, 62.74], "nice": false, "zero": false},
 "axis": {"orient": "right", "values": [0, 4, 8, 12, 16, 20, 24, 28, 32, 36, 40, 44, 48, 52, 56, 60],
  "labelExpr": "datum.value >= 60 || datum.value == 16 ? '' : format(datum.value, '.2f')",
  "labelFontWeight": {"condition": {"test": "datum.value == 0", "value": "bold"}, "value": "normal"},
  "labelFont": "Inter", "labelFontSize": 21, "labelColor": "#131722", "labelPadding": 19, "labelOverlap": false, "labelFlush": false,
  "ticks": false, "tickSize": 0, "domain": false, "grid": true, "gridColor": "#EFF0F3", "gridWidth": 1.5,
  "title": "point", "titleX": 50, "titleY": 30, "titleAngle": 0, "titleAlign": "center", "titleBaseline": "middle", "titleFont": "Inter", "titleFontSize": 21, "titleFontWeight": "normal", "titleColor": "#131722"}}
}
},
{
"data": {"name": "proxy", "format": {"parse": {"date": "utc:'%Y-%m-%d'"}}},
"mark": {"type": "line", "color": "#2962FF", "strokeWidth": 3.5, "strokeJoin": "round", "clip": true},
"encoding": {"x": {"field": "date", "type": "quantitative"}, "y": {"field": "value", "type": "quantitative"}}
},
{
"data": {"name": "semi", "format": {"parse": {"date": "utc:'%Y-%m-%d'"}}},
"mark": {"type": "line", "color": "#F23645", "strokeWidth": 3.5, "strokeJoin": "round", "clip": true},
"encoding": {"x": {"field": "date", "type": "quantitative"}, "y": {"field": "value", "type": "quantitative"}}
},
{
"data": {"values": [{"edge": "top"}]},
"mark": {"type": "rule", "color": "#E3E5EA", "strokeWidth": 1.5},
"encoding": {"x": {"datum": 1740758400000, "type": "quantitative"}, "x2": {"datum": 1794211200000}, "y": {"datum": 62.74, "type": "quantitative"}}
},
{
"data": {"values": [{"edge": "timeaxis"}]},
"mark": {"type": "rule", "color": "#E3E5EA", "strokeWidth": 1.5},
"encoding": {"x": {"datum": 1740758400000, "type": "quantitative"}, "x2": {"datum": 1794211200000}, "y": {"datum": -1.55, "type": "quantitative"}}
},
{
"data": {"values": [{"edge": "bottom"}]},
"mark": {"type": "rule", "color": "#E3E5EA", "strokeWidth": 1.5},
"encoding": {"x": {"datum": 1740758400000, "type": "quantitative"}, "x2": {"datum": 1794211200000}, "y": {"datum": -3.85, "type": "quantitative"}}
},
{
"data": {"values": [{"edge": "left"}]},
"mark": {"type": "rule", "color": "#E3E5EA", "strokeWidth": 1.5},
"encoding": {"x": {"datum": 1740758400000, "type": "quantitative"}, "y": {"datum": 62.74, "type": "quantitative"}, "y2": {"datum": -3.85}}
},
{
"data": {"values": [{"edge": "right"}]},
"mark": {"type": "rule", "color": "#E3E5EA", "strokeWidth": 1.5},
"encoding": {"x": {"datum": 1794211200000, "type": "quantitative"}, "y": {"datum": 62.74, "type": "quantitative"}, "y2": {"datum": -3.85}}
},
{
"data": {"values": [{"button": "point"}]},
"mark": {"type": "rect", "fill": "#ffffff", "fillOpacity": 0, "stroke": "#E3E5EA", "strokeWidth": 1.5, "cornerRadius": 8},
"encoding": {"x": {"datum": 1792461600000, "type": "quantitative"}, "x2": {"datum": 1794139200000}, "y": {"datum": 62.4, "type": "quantitative"}, "y2": {"datum": 60.16}}
},
{
"data": {"name": "legend"},
"transform": [{"filter": "datum.key == 'proxy'"}],
"mark": {"type": "rect", "color": "#2962FF", "cornerRadiusTopRight": 3, "cornerRadiusBottomRight": 3},
"encoding": {"x": {"datum": 1792360800000, "type": "quantitative"}, "x2": {"datum": 1794124800000}, "y": {"datum": 16.69, "type": "quantitative"}, "y2": {"datum": 15.23}}
},
{
"data": {"name": "legend"},
"transform": [{"filter": "datum.key == 'semi'"}],
"mark": {"type": "rect", "color": "#F23645", "cornerRadiusTopRight": 3, "cornerRadiusBottomRight": 3},
"encoding": {"x": {"datum": 1792360800000, "type": "quantitative"}, "x2": {"datum": 1794124800000}, "y": {"datum": 15.23, "type": "quantitative"}, "y2": {"datum": 13.80}}
},
{
"data": {"name": "legend"},
"transform": [{"filter": "datum.key == 'cor'"}],
"mark": {"type": "rect", "color": "#0BBF4F", "cornerRadiusTopRight": 3, "cornerRadiusBottomRight": 3},
"encoding": {"x": {"datum": 1792360800000, "type": "quantitative"}, "x2": {"datum": 1793865600000}, "y": {"datum": 9.89, "type": "quantitative"}, "y2": {"datum": 8.44}}
},
{
"data": {"name": "legend"},
"transform": [{"filter": "datum.key == 'proxy'"}],
"mark": {"type": "text", "align": "left", "baseline": "middle", "font": "Inter", "fontSize": 21, "color": "#ffffff"},
"encoding": {"x": {"datum": 1792728000000, "type": "quantitative"}, "y": {"datum": 15.96, "type": "quantitative"}, "text": {"field": "last"}}
},
{
"data": {"name": "legend"},
"transform": [{"filter": "datum.key == 'semi'"}],
"mark": {"type": "text", "align": "left", "baseline": "middle", "font": "Inter", "fontSize": 21, "color": "#ffffff"},
"encoding": {"x": {"datum": 1792728000000, "type": "quantitative"}, "y": {"datum": 14.52, "type": "quantitative"}, "text": {"field": "last"}}
},
{
"data": {"name": "legend"},
"transform": [{"filter": "datum.key == 'cor'"}],
"mark": {"type": "text", "align": "left", "baseline": "middle", "font": "Inter", "fontSize": 21, "color": "#ffffff"},
"encoding": {"x": {"datum": 1792728000000, "type": "quantitative"}, "y": {"datum": 9.17, "type": "quantitative"}, "text": {"field": "last"}}
},
{
"data": {"name": "legend"},
"transform": [{"filter": "datum.key == 'proxy'"}],
"mark": {"type": "text", "align": "left", "baseline": "middle", "font": "Inter", "fontSize": 21, "color": "#131722"},
"encoding": {"x": {"datum": 1741100400000, "type": "quantitative"}, "y": {"datum": 61.29, "type": "quantitative"}, "text": {"field": "name"}}
},
{
"data": {"name": "legend"},
"transform": [{"filter": "datum.key == 'semi'"}],
"mark": {"type": "text", "align": "left", "baseline": "middle", "font": "Inter", "fontSize": 21, "color": "#131722"},
"encoding": {"x": {"datum": 1741100400000, "type": "quantitative"}, "y": {"datum": 59.81, "type": "quantitative"}, "text": {"field": "name"}}
},
{
"data": {"name": "legend"},
"transform": [{"filter": "datum.key == 'cor'"}],
"mark": {"type": "text", "align": "left", "baseline": "middle", "font": "Inter", "fontSize": 21, "color": "#131722"},
"encoding": {"x": {"datum": 1741100400000, "type": "quantitative"}, "y": {"datum": 58.33, "type": "quantitative"}, "text": {"field": "name"}}
},
{
"data": {"name": "legend"},
"transform": [{"filter": "datum.key == 'proxy'"}],
"mark": {"type": "text", "align": "left", "baseline": "middle", "font": "Inter", "fontSize": 21, "color": "#2962FF"},
"encoding": {"x": {"datum": 1751328000000, "type": "quantitative"}, "y": {"datum": 61.29, "type": "quantitative"}, "text": {"field": "last"}}
},
{
"data": {"name": "legend"},
"transform": [{"filter": "datum.key == 'semi'"}],
"mark": {"type": "text", "align": "left", "baseline": "middle", "font": "Inter", "fontSize": 21, "color": "#F23645"},
"encoding": {"x": {"datum": 1754114400000, "type": "quantitative"}, "y": {"datum": 59.81, "type": "quantitative"}, "text": {"field": "last"}}
},
{
"data": {"name": "legend"},
"transform": [{"filter": "datum.key == 'semi'"}],
"mark": {"type": "text", "align": "left", "baseline": "middle", "font": "Inter", "fontSize": 18, "color": "#131722"},
"encoding": {"x": {"datum": 1755622800000, "type": "quantitative"}, "y": {"datum": 59.81, "type": "quantitative"}, "text": {"field": "extra"}}
},
{
"data": {"name": "legend"},
"transform": [{"filter": "datum.key == 'cor'"}],
"mark": {"type": "text", "align": "left", "baseline": "middle", "font": "Inter", "fontSize": 21, "color": "#0BBF4F"},
"encoding": {"x": {"datum": 1751500800000, "type": "quantitative"}, "y": {"datum": 58.33, "type": "quantitative"}, "text": {"field": "extra"}}
}
]
}
